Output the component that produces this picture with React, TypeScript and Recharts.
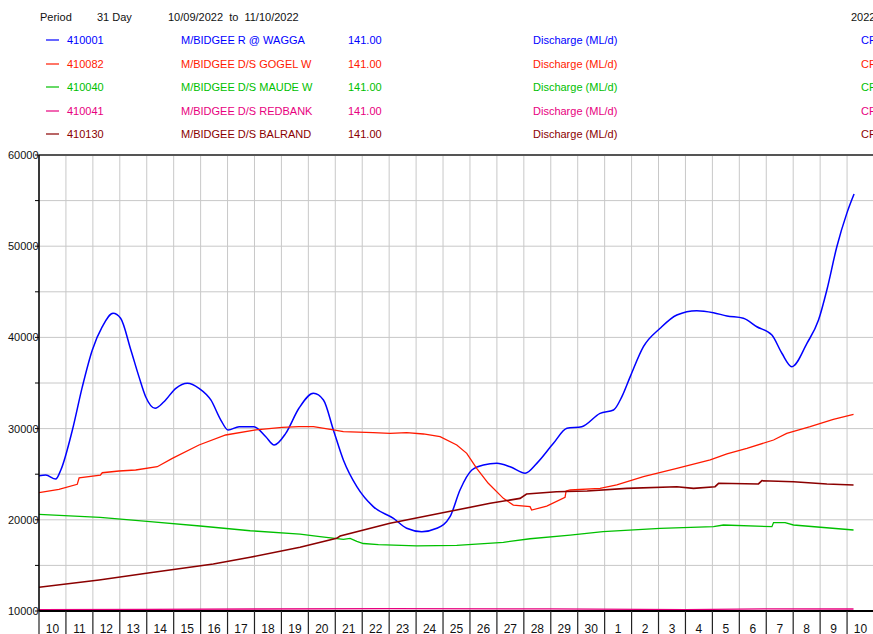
import { LineChart, Line, XAxis, YAxis, CartesianGrid, ReferenceLine } from 'recharts'

// day offsets from 10/09/2022 00:00, discharge ML/d
const waggaDays = [0, 0.25, 0.62, 0.81, 1.24, 1.61, 1.98, 2.35, 2.75, 3.03, 3.41, 3.71, 3.96, 4.31, 4.64, 5.08, 5.51, 5.94, 6.38, 6.75, 7.02, 7.43, 7.98, 8.42, 8.73, 9.16, 9.65, 10.19, 10.56, 10.93, 11.3, 11.8, 12.41, 13.16, 13.65, 14.21, 14.77, 15.26, 15.63, 16.07, 16.5, 17.0, 17.49, 18.05, 18.48, 19.1, 19.6, 20.15, 20.83, 21.33, 21.64, 21.95, 22.44, 23.06, 23.68, 24.42, 25.04, 25.54, 26.15, 26.65, 27.21, 27.58, 27.95, 28.51, 28.94, 29.25, 29.62, 29.99, 30.26]
const waggaFlow = [24830, 24900, 24470, 25460, 29850, 34600, 38620, 41170, 42640, 42100, 38620, 35700, 33500, 32230, 32950, 34420, 34970, 34420, 33140, 30940, 29850, 30210, 30210, 29110, 28200, 29480, 32230, 33870, 33140, 29850, 26560, 23630, 21440, 20160, 19070, 18700, 19070, 20340, 23270, 25460, 26010, 26190, 25820, 25100, 26190, 28390, 30030, 30210, 31670, 32040, 33500, 35700, 38980, 41000, 42460, 42930, 42710, 42350, 42100, 41170, 40260, 38260, 36790, 39350, 41900, 45200, 49940, 53600, 55720]

const gogelDays = [0, 0.74, 1.42, 1.49, 2.28, 2.35, 2.97, 3.59, 4.39, 4.95, 5.94, 6.93, 8.05, 9.03, 9.65, 10.19, 10.93, 11.3, 12.41, 13.03, 13.65, 14.27, 14.89, 15.51, 15.88, 16.25, 16.68, 17.24, 17.61, 18.23, 18.29, 18.85, 19.53, 19.57, 19.72, 20.83, 21.45, 22.44, 23.68, 24.92, 25.54, 26.28, 27.27, 27.76, 28.63, 29.49, 30.24]
const gogelFlow = [22970, 23340, 23890, 24610, 24910, 25160, 25350, 25460, 25820, 26740, 28200, 29300, 29850, 30130, 30210, 30210, 29850, 29660, 29560, 29480, 29560, 29410, 29110, 28200, 27290, 25640, 24000, 22350, 21620, 21440, 21070, 21510, 22460, 23160, 23270, 23450, 23820, 24730, 25640, 26560, 27220, 27840, 28750, 29480, 30210, 31010, 31560]

const maudeDays = [0, 2.27, 4.12, 5.98, 7.84, 9.69, 10.43, 11.3, 11.55, 11.8, 12.04, 12.6, 14.02, 15.51, 17.24, 18.23, 19.72, 20.94, 23.06, 25.04, 25.41, 27.21, 27.27, 27.7, 28.01, 30.24]
const maudeFlow = [20600, 20270, 19790, 19320, 18800, 18430, 18150, 17860, 17970, 17640, 17400, 17280, 17130, 17200, 17530, 17920, 18330, 18700, 19070, 19250, 19430, 19250, 19690, 19690, 19430, 18880]

const redbankDays = [0, 4, 8, 13, 19, 24, 27, 30.24]
const redbankFlow = [10150, 10180, 10220, 10250, 10230, 10150, 10230, 10220]

const balrandDays = [0, 2.23, 4.12, 6.47, 7.84, 9.69, 11.05, 11.18, 13.03, 14.89, 16.75, 17.86, 18.1, 19.21, 20.35, 21.82, 23.68, 24.3, 25.1, 25.23, 26.71, 26.84, 28.01, 29.25, 30.24]
const balrandFlow = [12600, 13400, 14200, 15150, 15890, 16990, 17970, 18220, 19620, 20710, 21810, 22350, 22830, 23080, 23150, 23450, 23630, 23450, 23630, 24000, 23930, 24290, 24180, 23930, 23820]

const dayLabels = ['10', '11', '12', '13', '14', '15', '16', '17', '18', '19', '20', '21', '22', '23', '24', '25', '26', '27', '28', '29', '30', '1', '2', '3', '4', '5', '6', '7', '8', '9', '10']
const dayTicks = dayLabels.map((_, i) => i).concat([dayLabels.length])
const yTicks = [10000, 15000, 20000, 25000, 30000, 35000, 40000, 45000, 50000, 55000, 60000]

const codes = ['410001', '410082', '410040', '410041', '410130']
const names = ['M/BIDGEE R @ WAGGA', 'M/BIDGEE D/S GOGEL W', 'M/BIDGEE D/S MAUDE W', 'M/BIDGEE D/S REDBANK', 'M/BIDGEE D/S BALRAND']
const colors = ['#0000ff', '#ff1a00', '#00c000', '#e8007e', '#8b0000']

const toPoints = (days: number[], flow: number[]) => days.map((d, i) => ({ d, v: flow[i] }))

const series = [
  toPoints(waggaDays, waggaFlow),
  toPoints(gogelDays, gogelFlow),
  toPoints(maudeDays, maudeFlow),
  toPoints(redbankDays, redbankFlow),
  toPoints(balrandDays, balrandFlow),
]

const FONT = '"Liberation Sans", Arial, sans-serif'
const CHART_W = 874
const PLOT_LEFT = 39
const CELL = (CHART_W - PLOT_LEFT) / dayLabels.length

function DayTick(props: any) {
  const { x, y, payload } = props
  const label = dayLabels[payload.value]
  return (
    <g>
      <line x1={x} y1={y} x2={x} y2={y + 30} stroke="#222" strokeWidth={1.2} />
      {label && (
        <text x={x + CELL / 2} y={y + 22} textAnchor="middle" fontSize={12} fill="#111" fontFamily={FONT}>
          {label}
        </text>
      )}
    </g>
  )
}

function FlowTick(props: any) {
  const { x, y, payload } = props
  if (payload.value % 10000 !== 0) return null
  return (
    <text x={x + 3.5} y={y + 4} textAnchor="end" fontSize={11} fill="#111" fontFamily={FONT}>
      {payload.value}
    </text>
  )
}

function Header() {
  const rowY = [44, 68, 91, 115, 138]
  return (
    <svg width={873} height={150} style={{ position: 'absolute', left: 0, top: 0 }} fontFamily={FONT} fontSize={11}>
      <text x={40} y={21} fill="#111">Period</text>
      <text x={97} y={21} fill="#111">31 Day</text>
      <text x={168} y={21} fill="#111" xmlSpace="preserve">10/09/2022  to  11/10/2022</text>
      <text x={851} y={21} fill="#111">2022</text>
      {codes.map((c, i) => (
        <g key={c} fill={colors[i]}>
          <line x1={46} x2={59} y1={rowY[i] - 4} y2={rowY[i] - 4} stroke={colors[i]} strokeWidth={1.2} />
          <text x={67} y={rowY[i]}>{c}</text>
          <text x={181} y={rowY[i]}>{names[i]}</text>
          <text x={348} y={rowY[i]}>141.00</text>
          <text x={533} y={rowY[i]}>Discharge (ML/d)</text>
          <text x={861} y={rowY[i]}>CF</text>
        </g>
      ))}
    </svg>
  )
}

export default function App() {
  return (
    <div style={{ position: 'fixed', left: 0, top: 0, width: 873, height: 634, overflow: 'hidden', background: '#fff' }}>
      <LineChart width={CHART_W} height={660} margin={{ top: 155, right: 0, left: 0, bottom: 0 }}>
        <CartesianGrid stroke="#c8c8c8" strokeWidth={1} />
        <XAxis
          dataKey="d"
          type="number"
          domain={[0, dayLabels.length]}
          ticks={dayTicks}
          interval={0}
          height={49}
          tickSize={0}
          tickMargin={0}
          tickLine={false}
          axisLine={{ stroke: '#000', strokeWidth: 2 }}
          tick={<DayTick />}
          allowDataOverflow
        />
        <YAxis
          type="number"
          domain={[10000, 60000]}
          ticks={yTicks}
          interval={0}
          width={39}
          tickSize={4}
          tickMargin={0}
          tickLine={{ stroke: '#000' }}
          axisLine={{ stroke: '#000', strokeWidth: 1.5 }}
          tick={<FlowTick />}
          allowDataOverflow
        />
        <ReferenceLine y={60000} stroke="#555" strokeWidth={2} />
        {series.map((pts, i) => (
          <Line
            key={codes[i]}
            data={pts}
            dataKey="v"
            type={i === 0 ? 'monotone' : 'linear'}
            stroke={colors[i]}
            strokeWidth={i === 0 ? 1.5 : i === 4 ? 1.6 : 1.3}
            dot={false}
            isAnimationActive={false}
          />
        ))}
      </LineChart>
      <Header />
    </div>
  )
}
